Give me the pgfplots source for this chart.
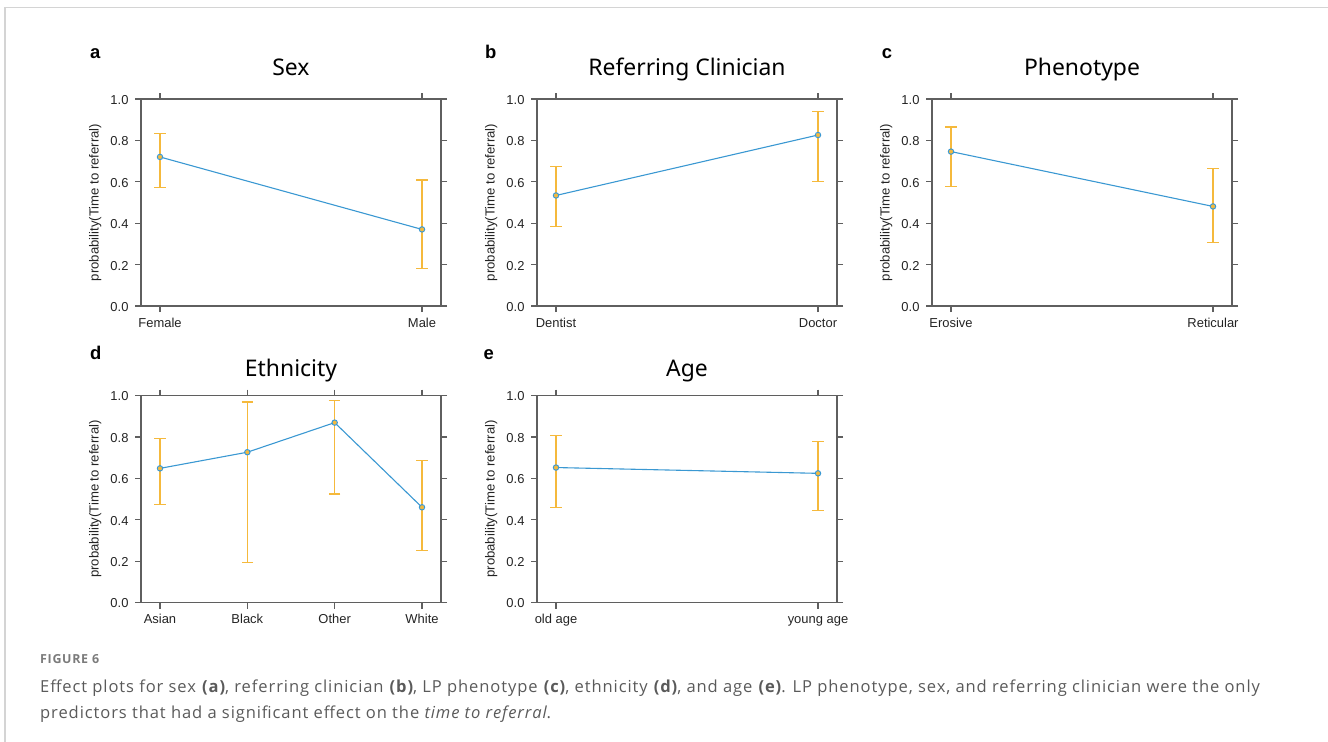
\documentclass[border=0pt]{standalone}
\usepackage{fontspec}
\setmainfont{Liberation Sans}
\newfontfamily\titlefont{Noto Sans}
\newfontfamily\capfont{Open Sans}[LetterSpace=5.5]
\usepackage{pgfplots}
\pgfplotsset{compat=1.18}
\definecolor{linec}{RGB}{58,152,210}
\definecolor{errc}{RGB}{245,185,60}
\definecolor{axisgray}{RGB}{95,95,95}
\definecolor{tickc}{RGB}{35,35,35}
\definecolor{capc}{RGB}{90,90,90}
\definecolor{framec}{RGB}{212,212,212}
\pgfplotsset{
  effect/.style={
    scale only axis, width=300bp, height=207bp,
    ymin=0, ymax=1,
    ytick={0,0.2,0.4,0.6,0.8,1}, yticklabels={0.0,0.2,0.4,0.6,0.8,1.0},
    tick align=outside, xtick pos=both, ytick pos=both,
    major tick length=6bp,
    axis line style={draw=axisgray, line width=1.2bp},
    every tick/.style={draw=axisgray, line width=1.2bp},
    tick label style={font=\fontsize{13}{15}\selectfont, text=tickc},
    xticklabel style={anchor=base, yshift=-15bp},
    yticklabel style={xshift=-3bp, yshift=-1bp},
    ylabel={probability(Time to referral)},
    ylabel style={at={(axis description cs:-0.153,0.5)}, anchor=center, rotate=0, font=\fontsize{13.2}{15}\selectfont, text=tickc},
    every axis title shift=0pt,
    title style={anchor=base, font=\titlefont\fontsize{23}{26}\selectfont, text=black},
  },
  toprow/.style={title style={at={(axis description cs:0.5,1.1145)}}},
  botrow/.style={title style={at={(axis description cs:0.5,1.0903)}}},
  two/.style={xmin=-0.0725, xmax=1.0725, xtick={0,1}},
  errs/.style={only marks, mark=none, color=errc, forget plot,
    error bars/.cd, y dir=both, y explicit,
    error bar style={draw=errc, line width=1.2bp},
    error mark options={draw=errc, line width=1.2bp, mark size=5.7bp, rotate=90}},
  est/.style={color=linec, line width=1.1bp, mark=o, mark size=2.7bp, mark options={line width=1bp, fill=white}},
}
\begin{document}
\begin{tikzpicture}
\path[use as bounding box] (0,0) rectangle (1328bp,-742bp);
\draw[framec, line width=1.5bp] (5bp,-742bp) -- (5bp,-7.5bp) -- (1328bp,-7.5bp);

% a
\begin{axis}[effect, toprow, two, at={(141bp,-306bp)}, anchor=south west, title={Sex}, xticklabels={Female,Male}]
\addplot[errs] coordinates {(0,0.720) += (0,0.114) -= (0,0.149) (1,0.370) += (0,0.239) -= (0,0.188)};
\addplot[est] coordinates {(0,0.720) (1,0.370)};
\end{axis}
% b
\begin{axis}[effect, toprow, two, at={(537bp,-306bp)}, anchor=south west, title={Referring Clinician}, xticklabels={Dentist,Doctor}]
\addplot[errs] coordinates {(0,0.534) += (0,0.141) -= (0,0.150) (1,0.826) += (0,0.114) -= (0,0.226)};
\addplot[est] coordinates {(0,0.534) (1,0.826)};
\end{axis}
% c
\begin{axis}[effect, toprow, two, at={(932bp,-306bp)}, anchor=south west, title={Phenotype}, xticklabels={Erosive,Reticular}]
\addplot[errs] coordinates {(0,0.746) += (0,0.119) -= (0,0.169) (1,0.481) += (0,0.185) -= (0,0.176)};
\addplot[est] coordinates {(0,0.746) (1,0.481)};
\end{axis}
% d
\begin{axis}[effect, botrow, at={(141bp,-602.5bp)}, anchor=south west, title={Ethnicity},
  xmin=-0.2175, xmax=3.2175, xtick={0,1,2,3}, xticklabels={Asian,Black,Other,White}]
\addplot[errs] coordinates {(0,0.648) += (0,0.144) -= (0,0.175) (1,0.726) += (0,0.243) -= (0,0.534)
  (2,0.869) += (0,0.108) -= (0,0.345) (3,0.460) += (0,0.227) -= (0,0.210)};
\addplot[est] coordinates {(0,0.648) (1,0.726) (2,0.869) (3,0.460)};
\end{axis}
% e
\begin{axis}[effect, botrow, two, at={(537bp,-602.5bp)}, anchor=south west, title={Age}, xticklabels={old age,young age}]
\addplot[errs] coordinates {(0,0.652) += (0,0.153) -= (0,0.192) (1,0.624) += (0,0.152) -= (0,0.179)};
\addplot[est] coordinates {(0,0.652) (1,0.624)};
\end{axis}

% panel letters
\begin{scope}[every node/.style={anchor=base west, inner sep=0pt, font=\bfseries\fontsize{18.5}{20}\selectfont}]
\node at (90bp,-58.5bp) {a};
\node at (485bp,-58.5bp) {b};
\node at (881.7bp,-58.5bp) {c};
\node at (90bp,-359bp) {d};
\node at (483.3bp,-359bp) {e};
\end{scope}

% caption
\begin{scope}[every node/.style={anchor=base west, inner sep=0pt, text=capc}]
\node[font=\capfont\bfseries\fontsize{12.5}{14}\selectfont, text=capc!80] at (40bp,-663.5bp) {FIGURE 6};
\node[font=\capfont\fontsize{16.6}{18}\selectfont] at (40bp,-692bp) {Effect plots for sex \textbf{(a)}, referring clinician \textbf{(b)}, LP phenotype \textbf{(c)}, ethnicity \textbf{(d)}, and age \textbf{(e)}. LP phenotype, sex, and referring clinician were the only};
\node[font=\capfont\fontsize{16.6}{18}\selectfont] at (40bp,-718bp) {predictors that had a significant effect on the \textit{time to referral}.};
\end{scope}
\end{tikzpicture}
\end{document}
